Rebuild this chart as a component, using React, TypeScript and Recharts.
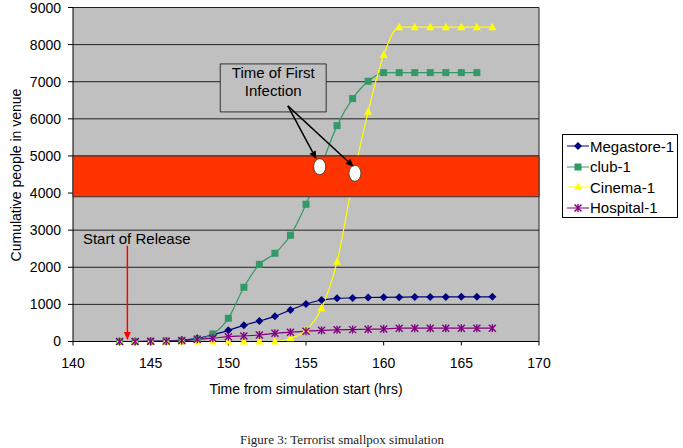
import {
  LineChart, Line, XAxis, YAxis, CartesianGrid, ReferenceArea, ReferenceLine, ReferenceDot, Legend,
} from 'recharts'

// hours from simulation start
const hours = [143, 144, 145, 146, 147, 148, 149, 150, 151, 152, 153, 154, 155, 156, 157, 158, 159, 160, 161, 162, 163, 164, 165, 166, 167]

// cumulative people in each venue
const megastore = [0, 0, 5, 15, 40, 86, 180, 300, 436, 552, 678, 849, 1011, 1118, 1164, 1175, 1185, 1190, 1195, 1200, 1200, 1200, 1205, 1205, 1205]
const club = [0, 0, 5, 10, 20, 60, 202, 625, 1461, 2080, 2377, 2862, 3698, 4750, 5817, 6545, 7013, 7246, 7246, 7246, 7246, 7246, 7246, 7246, null]
const cinema = [0, 0, 0, 0, 0, 0, 0, 0, 0, 0, 0, 86, 300, 895, 2151, 4300, 6194, 7722, 8469, 8469, 8469, 8469, 8469, 8469, 8469]
const hospital = [0, 0, 5, 10, 25, 60, 90, 130, 150, 175, 220, 250, 275, 300, 315, 320, 330, 340, 360, 360, 360, 360, 360, 360, 360]

const xTicks = [140, 145, 150, 155, 160, 165, 170]
const yTicks = [0, 1000, 2000, 3000, 4000, 5000, 6000, 7000, 8000, 9000]

const SERIES = [
  { key: 'megastore', name: 'Megastore-1', color: '#000080', shape: 'diamond' },
  { key: 'club', name: 'club-1', color: '#339966', shape: 'square' },
  { key: 'cinema', name: 'Cinema-1', color: '#FFFF00', shape: 'triangle' },
  { key: 'hospital', name: 'Hospital-1', color: '#800080', shape: 'star' },
]

const data = hours.map((h, i) => ({
  hour: h,
  megastore: megastore[i],
  club: club[i],
  cinema: cinema[i],
  hospital: hospital[i],
}))

const FONT = '"Liberation Sans", Arial, sans-serif'

function Marker({ shape, color, cx, cy }: any) {
  if (shape === 'diamond')
    return <polygon points={`${cx},${cy - 4} ${cx + 4},${cy} ${cx},${cy + 4} ${cx - 4},${cy}`} fill={color} />
  if (shape === 'square')
    return <rect x={cx - 3.5} y={cy - 3.5} width={7} height={7} fill={color} />
  if (shape === 'triangle')
    return <polygon points={`${cx},${cy - 4.5} ${cx + 4},${cy + 3} ${cx - 4},${cy + 3}`} fill={color} />
  return (
    <g stroke={color} strokeWidth={1.4}>
      <line x1={cx - 3.5} y1={cy - 3.5} x2={cx + 3.5} y2={cy + 3.5} />
      <line x1={cx - 3.5} y1={cy + 3.5} x2={cx + 3.5} y2={cy - 3.5} />
      <line x1={cx} y1={cy - 4} x2={cx} y2={cy + 4} />
    </g>
  )
}

function Arrow(props: any) {
  const { x1, y1, x2, y2, stroke } = props
  const ang = Math.atan2(y2 - y1, x2 - x1)
  const len = 8, w = 3.5
  const bx = x2 - len * Math.cos(ang)
  const by = y2 - len * Math.sin(ang)
  const pts = `${x2},${y2} ${bx - w * Math.sin(ang)},${by + w * Math.cos(ang)} ${bx + w * Math.sin(ang)},${by - w * Math.cos(ang)}`
  return (
    <g>
      <line x1={x1} y1={y1} x2={bx} y2={by} stroke={stroke} strokeWidth={1.5} />
      <polygon points={pts} fill={stroke} />
    </g>
  )
}

function LegendBox() {
  return (
    <div style={{ border: '1px solid #000', background: '#fff', width: 116, height: 84, paddingTop: 1, boxSizing: 'border-box', fontFamily: FONT, fontSize: 15, whiteSpace: 'nowrap' }}>
      {SERIES.map(s => (
        <div key={s.key} style={{ display: 'flex', alignItems: 'center', height: 20.5 }}>
          <svg width={24} height={12} style={{ marginLeft: 3, flexShrink: 0 }}>
            <line x1={1} y1={6} x2={23} y2={6} stroke={s.color} strokeWidth={1} />
            <Marker shape={s.shape} color={s.color} cx={12} cy={6} />
          </svg>
          <span>{s.name}</span>
        </div>
      ))}
    </div>
  )
}

export default function App() {
  return (
    <div style={{ position: 'absolute', left: 0, top: 0, width: 683, height: 448, background: '#fff', fontFamily: FONT }}>
      <LineChart width={683} height={448} data={data} margin={{ top: 7.5, right: 144, left: 13, bottom: 76.5 }}>
        <CartesianGrid
          fill="#C0C0C0"
          stroke="#222"
          horizontal
          vertical
          verticalCoordinatesGenerator={({ offset }: any) => [offset.left + offset.width]}
        />
        <XAxis
          type="number"
          dataKey="hour"
          domain={[140, 170]}
          ticks={xTicks}
          height={30}
          tickSize={4}
          tickMargin={13}
          axisLine={{ stroke: '#000' }}
          tickLine={{ stroke: '#000' }}
          tick={{ fill: '#000', fontSize: 14, fontFamily: FONT }}
          allowDataOverflow
        />
        <YAxis
          domain={[0, 9000]}
          ticks={yTicks}
          width={60}
          tickSize={5}
          tickMargin={7}
          axisLine={{ stroke: '#000' }}
          tickLine={{ stroke: '#000' }}
          tick={{ fill: '#000', fontSize: 14, fontFamily: FONT }}
        />
        {SERIES.map(s => (
          <Line
            key={s.key}
            type="monotone"
            dataKey={s.key}
            name={s.name}
            stroke={s.color}
            strokeWidth={1.2}
            isAnimationActive={false}
            dot={(p: any) =>
              p.cx == null || p.cy == null || p.value == null
                ? <g key={p.index} />
                : <Marker key={p.index} shape={s.shape} color={s.color} cx={p.cx} cy={p.cy} />
            }
            activeDot={false}
          />
        ))}
        <ReferenceArea x1={140} x2={170} y1={3900} y2={5000} fill="#FF3300" fillOpacity={1} stroke="#333" strokeWidth={1} zIndex={900} />
        <ReferenceArea
          x1={149.48} x2={156.3} y1={6186} y2={7480}
          fill="#C0C0C0" fillOpacity={1} stroke="#333" strokeWidth={1} zIndex={900}
          label={(p: any) => {
            const vb = p.viewBox || {}
            const cx = vb.x + vb.width / 2
            return (
              <text x={cx} y={vb.y} textAnchor="middle" fontSize={15} fontFamily={FONT} fill="#000">
                <tspan x={cx} dy={14}>Time of First</tspan>
                <tspan x={cx} dy={18}>Infection</tspan>
              </text>
            )
          }}
        />
        <ReferenceDot x={155.88} y={4712} r={8} zIndex={1000}
          shape={(p: any) => <ellipse cx={p.cx} cy={p.cy} rx={6} ry={8} fill="#fff" stroke="#333" strokeWidth={0.8} />} />
        <ReferenceDot x={158.15} y={4534} r={8} zIndex={1000}
          shape={(p: any) => <ellipse cx={p.cx} cy={p.cy} rx={6} ry={8} fill="#fff" stroke="#333" strokeWidth={0.8} />} />
        <ReferenceLine segment={[{ x: 153.83, y: 6348 }, { x: 155.67, y: 4911 }]} stroke="#000" shape={Arrow} ifOverflow="visible" zIndex={1100} />
        <ReferenceLine segment={[{ x: 153.83, y: 6348 }, { x: 158.07, y: 4712 }]} stroke="#000" shape={Arrow} ifOverflow="visible" zIndex={1100} />
        <ReferenceLine segment={[{ x: 143.5, y: 2580 }, { x: 143.5, y: 40 }]} stroke="#FF0000" shape={Arrow} ifOverflow="visible" zIndex={1100} />
        <ReferenceDot x={140.64} y={2776} r={1} zIndex={1100}
          shape={(p: any) => (
            <text x={p.cx} y={p.cy} dominantBaseline="central" fontSize={15} fontFamily={FONT} fill="#000">Start of Release</text>
          )} />
        <Legend
          layout="vertical"
          align="center"
          verticalAlign="middle"
          content={() => <LegendBox />}
          wrapperStyle={{ left: 562, top: 134, width: 116, height: 84 }}
        />
      </LineChart>
      <div style={{ position: 'absolute', left: 306, top: 389, transform: 'translate(-50%, -50%)', fontSize: 14, whiteSpace: 'nowrap', color: '#000' }}>
        Time from simulation start (hrs)
      </div>
      <div style={{ position: 'absolute', left: 16, top: 175, transform: 'translate(-50%, -50%) rotate(-90deg)', fontSize: 14, whiteSpace: 'nowrap', color: '#000' }}>
        Cumulative people in venue
      </div>
      <div style={{ position: 'absolute', left: 342, top: 440, transform: 'translate(-50%, -50%)', fontSize: 13, whiteSpace: 'nowrap', color: '#222', fontFamily: '"Liberation Serif", "Times New Roman", serif' }}>
        Figure 3: Terrorist smallpox simulation
      </div>
    </div>
  )
}
